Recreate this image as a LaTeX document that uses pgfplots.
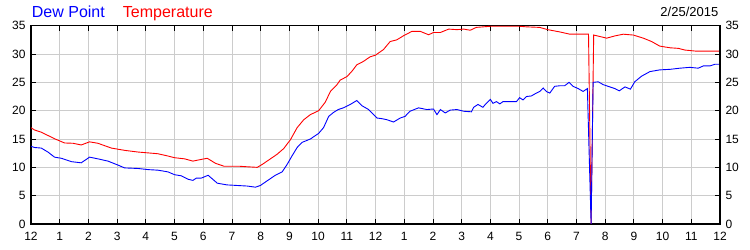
\documentclass[border=0pt]{standalone}
\usepackage{fontspec}
\setmainfont{Liberation Sans}
\usepackage{pgfplots}
\pgfplotsset{compat=1.18}
\definecolor{gridgray}{RGB}{204,204,204}
\definecolor{tempred}{RGB}{255,0,0}
\definecolor{dewblue}{RGB}{0,0,255}
\pgfplotsset{
  base/.style={
    at={(31bp,26bp)}, anchor=south west,
    scale only axis, width=689bp, height=198.3bp,
    xmin=0, xmax=24, ymin=0, ymax=35,
    ytick={0,5,...,35},
    tick align=inside, major tick length=5bp,
    tick style={black, line width=0.8bp},
    axis line style={black, line width=1.2bp},
    ticklabel style={font=\fontsize{12bp}{14bp}\selectfont},
    /pgf/number format/assume math mode=true,
  }
}
\begin{document}
\begin{tikzpicture}
\path[use as bounding box] (0,0) rectangle (750bp,250bp);
\begin{axis}[base,
  xtick={0,...,24},
  xticklabels={12,1,2,3,4,5,6,7,8,9,10,11,12,1,2,3,4,5,6,7,8,9,10,11,12},
  xticklabel style={yshift=-5bp},
  yticklabel style={xshift=-2bp},
  grid=major, grid style={gridgray, line width=0.8bp},
  ytick pos=left,
]
\addplot[tempred, line width=0.9bp] coordinates {
(0,17.0) (0.12,16.6) (0.36,16.2) (0.6,15.6) (0.82,15.05) (1.17,14.3) (1.46,14.25) (1.75,13.95)
(2.04,14.5) (2.33,14.25) (2.8,13.4) (3.26,13.0) (3.73,12.7) (4.08,12.55) (4.42,12.4) (4.77,12.0)
(5.0,11.7) (5.35,11.5) (5.64,11.1) (5.93,11.4) (6.14,11.6) (6.43,10.7) (6.72,10.2) (7.0,10.2)
(7.24,10.2) (7.53,10.1) (7.88,10.0) (8.05,10.5) (8.34,11.5) (8.57,12.3) (8.8,13.3) (9.04,14.9)
(9.27,17.0) (9.5,18.4) (9.73,19.3) (10.02,20.0) (10.25,21.5) (10.43,23.4) (10.66,24.6) (10.77,25.4)
(11.0,26.0) (11.17,26.9) (11.35,28.1) (11.58,28.7) (11.81,29.5) (12.0,29.8) (12.28,30.8) (12.51,32.2)
(12.74,32.5) (13.0,33.3) (13.27,34.0) (13.56,34.0) (13.85,33.4) (14.02,33.8) (14.26,33.8) (14.55,34.4)
(14.84,34.3) (15.07,34.4) (15.3,34.2) (15.51,34.7) (16.0,34.9) (17.02,34.9) (17.25,34.8) (17.72,34.7)
(18.0,34.3) (18.42,33.9) (18.77,33.5) (19.42,33.5) (19.51,0) (19.6,33.35) (19.81,33.1) (20.05,32.8)
(20.34,33.2) (20.63,33.5) (20.98,33.35) (21.33,32.8) (21.62,32.2) (21.9,31.4) (22.26,31.1) (22.55,31.0)
(22.78,30.7) (23.19,30.5) (24.0,30.5)
};
\addplot[dewblue, line width=0.9bp] coordinates {
(0,13.7) (0.13,13.5) (0.36,13.4) (0.59,12.7) (0.82,11.8) (1.06,11.6) (1.41,11.0) (1.75,10.8)
(2.04,11.8) (2.33,11.5) (2.68,11.1) (3.03,10.4) (3.26,9.9) (3.73,9.8) (4.08,9.6) (4.42,9.5)
(4.77,9.2) (5.0,8.7) (5.24,8.5) (5.47,7.9) (5.64,7.7) (5.76,8.1) (5.93,8.1) (6.17,8.6)
(6.49,7.2) (6.83,6.9) (7.18,6.8) (7.53,6.7) (7.82,6.5) (7.99,6.8) (8.22,7.6) (8.51,8.6)
(8.75,9.2) (8.92,10.5) (9.09,12.0) (9.27,13.5) (9.44,14.4) (9.73,15.0) (10.02,16.0) (10.19,17.0)
(10.37,19.0) (10.54,19.7) (10.7,20.2) (10.88,20.5) (11.12,21.1) (11.35,21.8) (11.52,20.9) (11.76,20.2)
(12.05,18.7) (12.22,18.6) (12.4,18.4) (12.63,18.0) (12.86,18.7) (13.03,19.0) (13.2,19.9) (13.5,20.5)
(13.79,20.2) (14.02,20.3) (14.14,19.3) (14.26,20.2) (14.43,19.6) (14.6,20.1) (14.84,20.2) (15.07,19.9)
(15.34,19.8) (15.42,20.6) (15.57,21.1) (15.74,20.6) (15.86,21.3) (16.0,22.0) (16.09,21.3) (16.21,21.6)
(16.33,21.2) (16.44,21.6) (16.91,21.6) (17.02,22.3) (17.14,21.9) (17.26,22.5) (17.43,22.6) (17.6,23.1)
(17.72,23.4) (17.84,24.0) (17.95,23.4) (18.07,23.1) (18.24,24.3) (18.42,24.4) (18.59,24.4) (18.74,25.0)
(18.88,24.3) (19.06,23.9) (19.23,23.4) (19.38,23.9) (19.51,0) (19.58,25.0) (19.76,25.1) (19.93,24.6)
(20.16,24.2) (20.34,23.9) (20.49,23.5) (20.69,24.2) (20.88,23.8) (21.03,25.1) (21.27,26.1) (21.56,26.9)
(21.9,27.2) (22.26,27.3) (22.6,27.5) (22.95,27.65) (23.24,27.5) (23.42,27.9) (23.65,27.9) (23.83,28.2)
(24.0,28.2)
};
\end{axis}
\begin{axis}[base,
  hide x axis,
  axis y line*=right,
  yticklabel style={xshift=2bp},
]
\end{axis}
\node[anchor=base west, inner sep=0, text=dewblue, font=\fontsize{16bp}{18bp}\selectfont] at (31.7bp,232.7bp) {Dew Point};
\node[anchor=base west, inner sep=0, text=tempred, font=\fontsize{16bp}{18bp}\selectfont] at (122.7bp,232.7bp) {Temperature};
\node[anchor=base east, inner sep=0, font=\fontsize{13bp}{15bp}\selectfont] at (718.5bp,233.3bp) {2/25/2015};
\end{tikzpicture}
\end{document}
